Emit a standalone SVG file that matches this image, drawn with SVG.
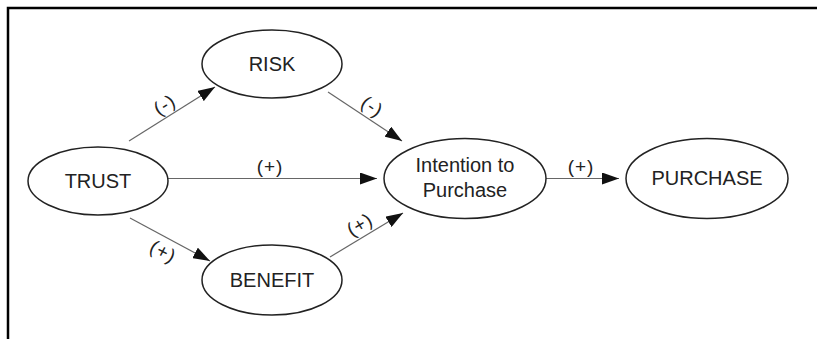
<svg xmlns="http://www.w3.org/2000/svg" width="817" height="339" viewBox="0 0 817 339">
<defs>
<style>
.node ellipse{fill:#fff;stroke:#222;stroke-width:1.5}
.node text{font-family:"Liberation Sans",Arial,sans-serif;font-size:20px;fill:#222;text-anchor:middle}
.edge{stroke:#666;stroke-width:1.2;fill:none;marker-end:url(#arr)}
.lbl{font-family:"Liberation Sans",Arial,sans-serif;font-size:19px;letter-spacing:1px;fill:#222;text-anchor:middle}
.frame{stroke:#000;stroke-width:2.5;fill:none}
</style>
<marker id="arr" markerUnits="userSpaceOnUse" markerWidth="17" markerHeight="12" refX="17" refY="6" orient="auto">
<path d="M0,0 L17,6 L0,12 z" fill="#111"/>
</marker>
</defs>
<rect width="817" height="339" fill="#fff"/>
<path class="frame" d="M8,339 V8 H817"/>
<g id="connectors">
<line class="edge" x1="129" y1="141" x2="215" y2="87"/>
<line class="edge" x1="328" y1="92" x2="402" y2="141"/>
<line class="edge" x1="168" y1="178.5" x2="377" y2="178.5"/>
<line class="edge" x1="130" y1="218" x2="210" y2="261"/>
<line class="edge" x1="330" y1="257" x2="403" y2="213"/>
<line class="edge" x1="546" y1="178.5" x2="619" y2="178.5"/>
<text class="lbl" transform="translate(165,105) rotate(-32)" y="6">(-)</text>
<text class="lbl" transform="translate(372,107) rotate(33)" y="6">(-)</text>
<text class="lbl" x="270" y="173">(+)</text>
<text class="lbl" transform="translate(163,252) rotate(28)" y="6">(+)</text>
<text class="lbl" transform="translate(360,225) rotate(-31)" y="6">(+)</text>
<text class="lbl" x="581" y="173">(+)</text>
</g>
<g id="trust" class="node"><ellipse cx="98" cy="181" rx="70" ry="34"/><text x="98" y="188">TRUST</text></g>
<g id="risk" class="node"><ellipse cx="272" cy="64" rx="70" ry="34"/><text x="272" y="71">RISK</text></g>
<g id="benefit" class="node"><ellipse cx="272" cy="280" rx="70" ry="35"/><text x="272" y="287">BENEFIT</text></g>
<g id="intention" class="node"><ellipse cx="465" cy="178.5" rx="81" ry="40"/><text x="465" y="172">Intention to</text><text x="465" y="197">Purchase</text></g>
<g id="purchase" class="node"><ellipse cx="707" cy="178.5" rx="81" ry="40"/><text x="707" y="185">PURCHASE</text></g>
</svg>
